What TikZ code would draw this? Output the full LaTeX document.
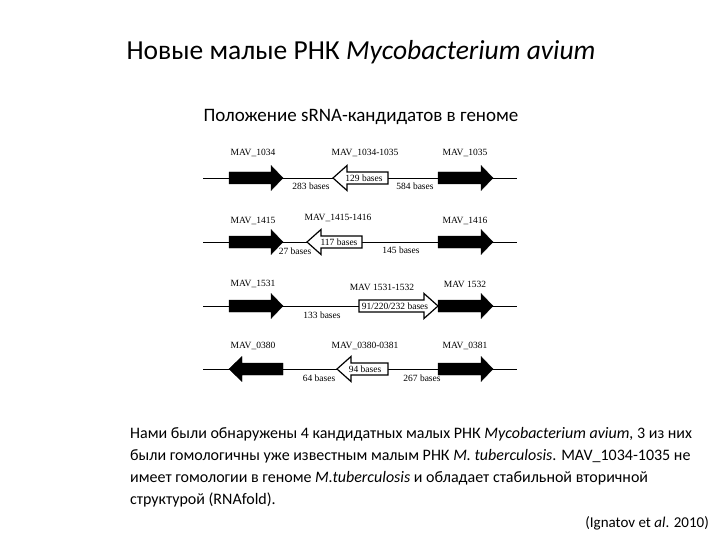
\documentclass[tikz,border=0pt]{standalone}
\usepackage{fontspec}
\setmainfont{Carlito}
\newfontfamily\fig{Liberation Serif}
\begin{document}
\begin{tikzpicture}[x=1pt,y=-1pt,
  lab/.style={font=\fig\fontsize{9.5}{11}\selectfont,inner sep=0pt},
  gline/.style={line width=0.9pt},
  blk/.style={fill=black,draw=black},
  opn/.style={fill=white,draw=black,line width=1.2pt}]
\useasboundingbox (0,0) rectangle (720,540);
\node at (361,52) {\fontsize{27.5}{30}\selectfont Новые малые РНК \textit{Mycobacterium avium}};
\node at (361,117) {\fontsize{19}{22}\selectfont Положение sRNA-кандидатов в геноме};
% row lines
\foreach \y/\n in {178/a,242/b,306/c,369/d}{
  \coordinate (l\n) at (203,\y); \coordinate (r\n) at (517,\y);
  \draw[gline] (l\n) -- (r\n);}
\newcommand\rblk[3]{\fill[blk] (#1,#3-6) -- (#2-12,#3-6) -- (#2-12,#3-12.5) -- (#2,#3) -- (#2-12,#3+12.5) -- (#2-12,#3+6) -- (#1,#3+6) -- cycle;}
\newcommand\lblk[3]{\fill[blk] (#1,#3-6) -- (#2+13,#3-6) -- (#2+13,#3-12.5) -- (#2,#3) -- (#2+13,#3+12.5) -- (#2+13,#3+6) -- (#1,#3+6) -- cycle;}
\newcommand\lopn[3]{\draw[opn] (#1,#3-6) -- (#2+14,#3-6) -- (#2+14,#3-12.5) -- (#2,#3) -- (#2+14,#3+12.5) -- (#2+14,#3+6) -- (#1,#3+6) -- cycle;}
\newcommand\ropn[3]{\draw[opn] (#1,#3-6) -- (#2-14,#3-6) -- (#2-14,#3-12.5) -- (#2,#3) -- (#2-14,#3+12.5) -- (#2-14,#3+6) -- (#1,#3+6) -- cycle;}
% row 1
\rblk{229}{283}{178} \lopn{388}{333}{178} \rblk{438}{493}{178}
\node[lab] at (253,153) {MAV\_1034};
\node[lab] at (365,153) {MAV\_1034-1035};
\node[lab] at (465,153) {MAV\_1035};
\node[lab] at (311,186) {283 bases};
\node[lab] at (364,178) {129 bases};
\node[lab] at (415,186) {584 bases};
% row 2
\rblk{229}{283}{242} \lopn{362}{307}{242} \rblk{438}{493}{242}
\node[lab] at (253,221) {MAV\_1415};
\node[lab] at (338,218) {MAV\_1415-1416};
\node[lab] at (465,221) {MAV\_1416};
\node[lab] at (295,251) {27 bases};
\node[lab] at (339,242) {117 bases};
\node[lab] at (401,250) {145 bases};
% row 3
\rblk{229}{283}{306} \ropn{359}{438}{306} \rblk{438}{493}{306}
\node[lab] at (253,284) {MAV\_1531};
\node[lab] at (382,287) {MAV 1531-1532};
\node[lab] at (465,284) {MAV 1532};
\node[lab] at (322,315) {133 bases};
\node[lab] at (395,306) {91/220/232 bases};
% row 4
\lblk{283}{229}{369} \lopn{388}{337}{369} \rblk{438}{493}{369}
\node[lab] at (253,346) {MAV\_0380};
\node[lab] at (365,346) {MAV\_0380-0381};
\node[lab] at (465,346) {MAV\_0381};
\node[lab] at (319,378) {64 bases};
\node[lab] at (365,369) {94 bases};
\node[lab] at (422,378) {267 bases};
% text
\node[anchor=north west,align=left,inner sep=0pt,font=\fontsize{16}{22}\selectfont] at (130,427) {Нами были обнаружены 4 кандидатных малых РНК \textit{Mycobacterium avium,} 3 из них\\ были гомологичны уже известным малым РНК \textit{M. tuberculosis}. MAV\_1034-1035 не\\ имеет гомологии в геноме \textit{M.tuberculosis} и обладает стабильной вторичной\\ структурой (RNAfold).};
\node[anchor=east,inner sep=0pt] at (709,523) {\fontsize{15}{18}\selectfont (Ignatov et \textit{al}. 2010)};
\end{tikzpicture}
\end{document}
